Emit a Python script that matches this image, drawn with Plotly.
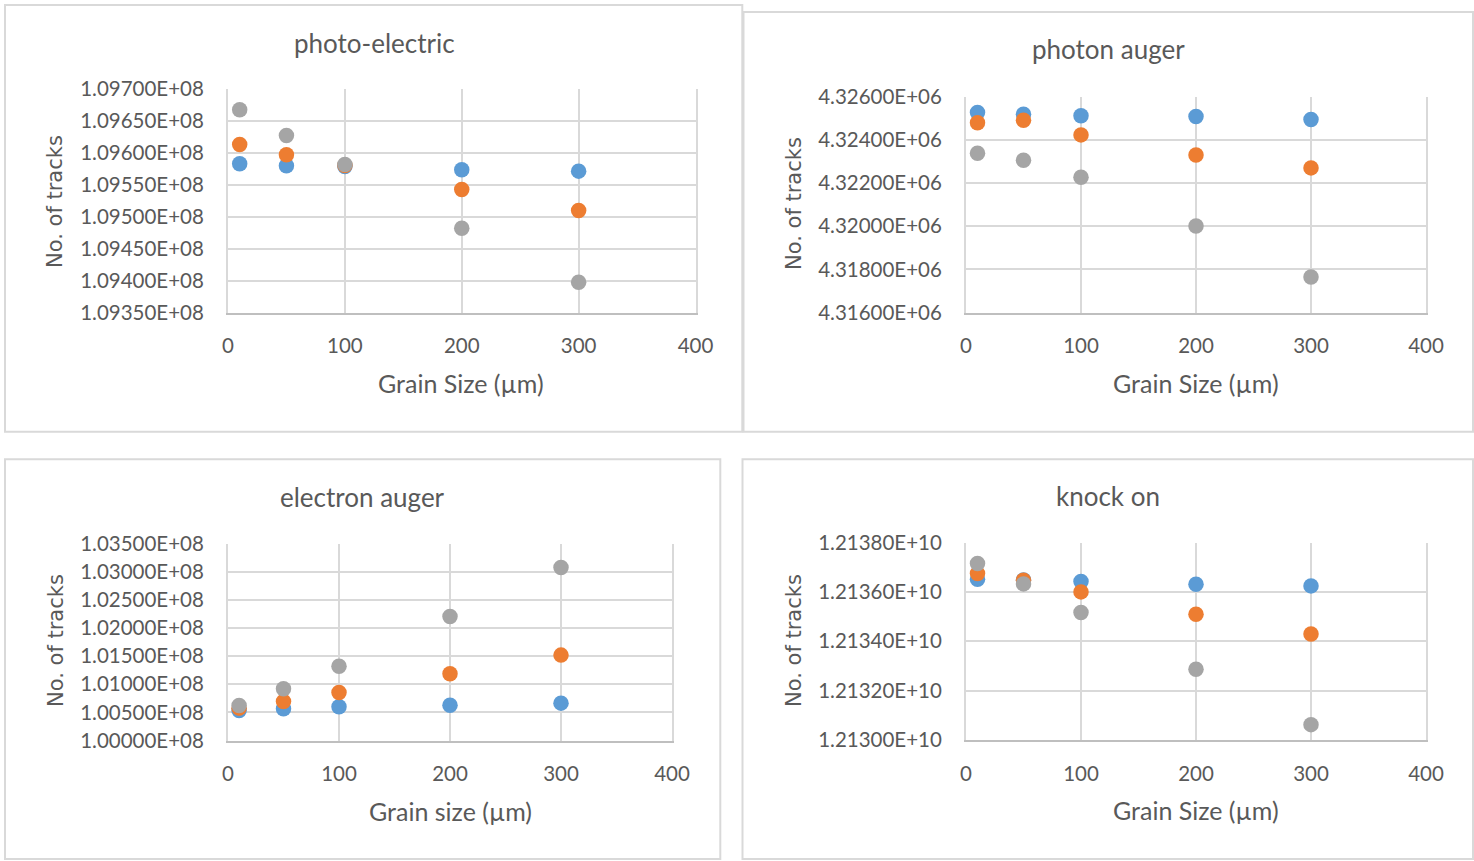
import plotly.graph_objects as go

# ---------------- data ----------------
grain_size = [10, 50, 100, 200, 300]

pe_blue = [109583000, 109579800, 109578800, 109573600, 109571500]
pe_orange = [109613300, 109597100, 109580400, 109542700, 109509800]
pe_gray = [109667600, 109627400, 109581900, 109482100, 109397500]

pa_blue = [4325259, 4325182, 4325105, 4325074, 4324935]
pa_orange = [4324781, 4324904, 4324225, 4323299, 4322698]
pa_gray = [4323377, 4323052, 4322265, 4320012, 4317651]

ea_blue = [100534000, 100563000, 100599000, 100628000, 100664000]
ea_orange = [100575000, 100694000, 100853000, 101185000, 101517000]
ea_gray = [100623000, 100919000, 101321000, 102203000, 103074000]

ko_blue = [12136514000, 12136486000, 12136419000, 12136311000, 12136243000]
ko_orange = [12136743000, 12136473000, 12136000000, 12135095000, 12134297000]
ko_gray = [12137149000, 12136324000, 12135162000, 12132865000, 12130622000]

x_ticks = [0, 100, 200, 300, 400]
x_ticktext = ["0", "100", "200", "300", "400"]

pe_ticks = [109350000, 109400000, 109450000, 109500000, 109550000, 109600000, 109650000, 109700000]
pe_ticktext = ["1.09350E+08", "1.09400E+08", "1.09450E+08", "1.09500E+08",
               "1.09550E+08", "1.09600E+08", "1.09650E+08", "1.09700E+08"]

pa_ticks = [4316000, 4318000, 4320000, 4322000, 4324000, 4326000]
pa_ticktext = ["4.31600E+06", "4.31800E+06", "4.32000E+06", "4.32200E+06",
               "4.32400E+06", "4.32600E+06"]

ea_ticks = [100000000, 100500000, 101000000, 101500000, 102000000, 102500000, 103000000, 103500000]
ea_ticktext = ["1.00000E+08", "1.00500E+08", "1.01000E+08", "1.01500E+08",
               "1.02000E+08", "1.02500E+08", "1.03000E+08", "1.03500E+08"]

ko_ticks = [12130000000, 12132000000, 12134000000, 12136000000, 12138000000]
ko_ticktext = ["1.21300E+10", "1.21320E+10", "1.21340E+10", "1.21360E+10", "1.21380E+10"]

titles = ["photo-electric", "photon auger", "electron auger", "knock on"]
x_titles = ["Grain Size (µm)", "Grain Size (µm)", "Grain size (µm)", "Grain Size (µm)"]
y_title = "No. of tracks"

colors = ["#5B9BD5", "#ED7D31", "#A5A5A5"]

# ---------------- layout geometry (pixels) ----------------
W, H = 1474, 861
# plot areas: x0, x1, y0(top), y1(bottom)
plots = [
    (228, 695.5, 89, 312.7),
    (966, 1426, 96.5, 312.7),
    (228, 672, 543.5, 740.5),
    (966, 1426, 542.5, 740),
]
# panel borders
panels = [
    (5, 742.3, 5, 431.7),
    (743.5, 1473, 12, 431.7),
    (5, 720.3, 459.3, 859),
    (742.5, 1473, 459.3, 859),
]
title_pos = [(374, 43), (1108, 49), (362, 497), (1108, 496)]
xt_pos = [(461, 383), (1196, 383), (450, 811), (1196, 810)]
yt_pos = [(55, 201), (794, 204), (56, 641), (794, 641)]

series = [
    (pe_blue, pe_orange, pe_gray, pe_ticks, pe_ticktext),
    (pa_blue, pa_orange, pa_gray, pa_ticks, pa_ticktext),
    (ea_blue, ea_orange, ea_gray, ea_ticks, ea_ticktext),
    (ko_blue, ko_orange, ko_gray, ko_ticks, ko_ticktext),
]

TICKFONT = dict(family="Lato, Liberation Sans, sans-serif", size=20.5, color="#595959")
GRID = "#D9D9D9"

fig = go.Figure()
layout = dict(
    width=W, height=H,
    margin=dict(l=0, r=0, t=0, b=0, autoexpand=False),
    paper_bgcolor="white", plot_bgcolor="white",
    showlegend=False,
    shapes=[], annotations=[],
)

for i, (blue, orange, gray, yt, ytt) in enumerate(series):
    n = "" if i == 0 else str(i + 1)
    xa, ya = "x" + n, "y" + n
    for vals, c in zip((blue, orange, gray), colors):
        fig.add_trace(go.Scatter(
            x=grain_size, y=vals, mode="markers", xaxis=xa, yaxis=ya,
            marker=dict(size=15.5, color=c, line=dict(width=0)),
            hoverinfo="x+y",
        ))
    x0, x1, y0, y1 = plots[i]
    layout["xaxis" + n] = dict(
        domain=[x0 / W, x1 / W], anchor=ya, range=[0, 400],
        tickvals=x_ticks, ticktext=x_ticktext, ticks="", ticklabelstandoff=14,
        showgrid=True, gridcolor=GRID, gridwidth=2, zeroline=False,
        showline=True, linecolor="#BFBFBF", linewidth=2,
        tickfont=TICKFONT, fixedrange=True, automargin=False,
    )
    layout["yaxis" + n] = dict(
        domain=[1 - y1 / H, 1 - y0 / H], anchor=xa, range=[yt[0], yt[-1]],
        tickvals=yt, ticktext=ytt, ticks="", ticklabelstandoff=18,
        showgrid=True, gridcolor=GRID, gridwidth=2, zeroline=False,
        showline=True, linecolor=GRID, linewidth=2, mirror=True,
        tickfont=TICKFONT, fixedrange=True, automargin=False,
    )
    px0, px1, py0, py1 = panels[i]
    layout["shapes"].append(dict(
        type="rect", xref="paper", yref="paper",
        x0=px0 / W, x1=px1 / W, y0=1 - py1 / H, y1=1 - py0 / H,
        line=dict(color="#D9D9D9", width=2), fillcolor="rgba(0,0,0,0)", layer="below",
    ))
    tx, ty = title_pos[i]
    layout["annotations"].append(dict(
        text=titles[i], xref="paper", yref="paper", x=tx / W, y=1 - ty / H,
        xanchor="center", yanchor="middle", showarrow=False,
        font=dict(family="Lato, Liberation Sans, sans-serif", size=26, color="#595959"),
    ))
    ax, ay = xt_pos[i]
    layout["annotations"].append(dict(
        text=x_titles[i], xref="paper", yref="paper", x=ax / W, y=1 - ay / H,
        xanchor="center", yanchor="middle", showarrow=False,
        font=dict(family="Lato, Liberation Sans, sans-serif", size=25, color="#595959"),
    ))
    bx, by = yt_pos[i]
    layout["annotations"].append(dict(
        text=y_title, xref="paper", yref="paper", x=bx / W, y=1 - by / H,
        xanchor="center", yanchor="middle", showarrow=False, textangle=-90,
        font=dict(family="DejaVu Sans, Verdana, sans-serif", size=21, color="#595959"),
    ))

fig.update_layout(**layout)
fig.write_html(
    "out.html",
    post_script="document.body.style.margin='0';document.body.style.overflow='hidden';",
)
